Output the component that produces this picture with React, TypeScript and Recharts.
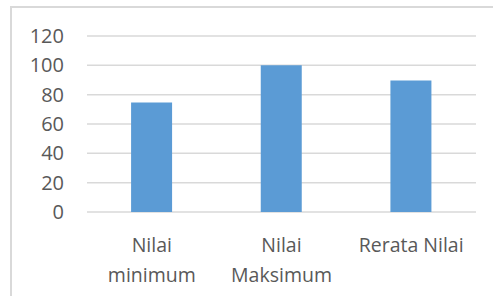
import { BarChart, Bar, XAxis, YAxis, CartesianGrid } from 'recharts'

const categories = ['Nilai minimum', 'Nilai Maksimum', 'Rerata Nilai']
const categoryLines = [['Nilai', 'minimum'], ['Nilai', 'Maksimum'], ['Rerata Nilai']]
const nilai = [74.6, 100, 89.6]
const yTicks = [0, 20, 40, 60, 80, 100, 120]

const data = categories.map((name, i) => ({ name, value: nilai[i] }))

const FONT = '"Open Sans", sans-serif'
const TEXT = '#595959'

const CategoryTick = (props: any) => {
  const { x, y, payload } = props
  const lines = categoryLines[categories.indexOf(payload.value)] || [payload.value]
  return (
    <text x={x} y={y} textAnchor="middle" fill={TEXT} fontSize={19.5} fontFamily={FONT}>
      {lines.map((l, i) => (
        <tspan key={i} x={x} dy={i === 0 ? 16 : 30}>
          {l}
        </tspan>
      ))}
    </text>
  )
}

export default function App() {
  return (
    <div
      style={{
        position: 'absolute',
        left: 0,
        top: 0,
        width: 493,
        height: 296,
        overflow: 'hidden',
        background: '#fff',
      }}
    >
      {/* frame of the chart box, runs off the right and bottom edge */}
      <div
        style={{
          position: 'absolute',
          left: 10,
          top: 6,
          width: 600,
          height: 400,
          border: '2px solid #d9d9d9',
        }}
      />
      <div style={{ position: 'absolute', left: 0, top: 0 }}>
        <BarChart
          width={493}
          height={296}
          data={data}
          margin={{ top: 36, right: 17, bottom: 54, left: 27 }}
          barCategoryGap="34%"
        >
          <CartesianGrid vertical={false} stroke="#d9d9d9" strokeWidth={1.5} />
          <XAxis
            dataKey="name"
            axisLine={false}
            tickLine={false}
            tickSize={6}
            tickMargin={18}
            interval={0}
            tick={<CategoryTick />}
          />
          <YAxis
            width={60}
            domain={[0, 120]}
            ticks={yTicks}
            interval={0}
            axisLine={false}
            tickLine={false}
            tickSize={0}
            tickMargin={23}
            tick={{ fill: TEXT, fontSize: 20, fontFamily: FONT }}
          />
          <Bar dataKey="value" fill="#5b9bd5" isAnimationActive={false} />
        </BarChart>
      </div>
    </div>
  )
}
